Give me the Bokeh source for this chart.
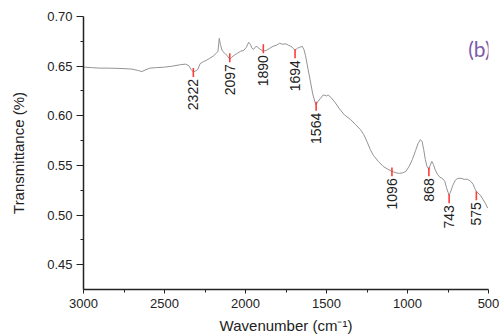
import math
from bokeh.plotting import figure
from bokeh.models import Range1d, FixedTicker, PrintfTickFormatter, Label
from bokeh.core.properties import value
from bokeh.embed import file_html
from bokeh.resources import INLINE

# ---- data ----
wavenumber = [3000, 2950, 2900, 2850, 2800, 2750, 2700, 2660, 2640, 2620, 2590, 2550,
              2500, 2450, 2400, 2370, 2350, 2335, 2322, 2310, 2295, 2280, 2260, 2240,
              2220, 2200, 2180, 2170, 2162, 2155, 2145, 2130, 2115, 2097, 2085, 2070,
              2050, 2030, 2010, 1995, 1980, 1970, 1960, 1950, 1935, 1925, 1910, 1890,
              1870, 1850, 1830, 1810, 1790, 1770, 1750, 1735, 1720, 1705, 1694, 1680,
              1665, 1650, 1640, 1630, 1615, 1600, 1585, 1570, 1564, 1555, 1540, 1520,
              1500, 1490, 1470, 1450, 1420, 1390, 1350, 1320, 1290, 1270, 1250, 1230,
              1210, 1180, 1150, 1120, 1096, 1070, 1050, 1030, 1010, 990, 970, 950,
              935, 920, 910, 900, 890, 880, 868, 860, 850, 840, 830, 815, 800, 785,
              770, 760, 750, 743, 735, 720, 705, 690, 670, 650, 630, 610, 595, 585,
              575, 565, 550, 535, 520, 505]
transmittance = [0.649, 0.6485, 0.648, 0.648, 0.6478, 0.6475, 0.647, 0.6455, 0.6445, 0.646, 0.648, 0.6485,
                 0.649, 0.650, 0.6515, 0.652, 0.6505, 0.6465, 0.644, 0.645, 0.6465, 0.6525, 0.6545, 0.656,
                 0.658, 0.660, 0.663, 0.665, 0.678, 0.672, 0.666, 0.663, 0.661, 0.657, 0.659, 0.661,
                 0.663, 0.665, 0.666, 0.669, 0.674, 0.672, 0.668, 0.667, 0.670, 0.669, 0.667, 0.665,
                 0.666, 0.668, 0.670, 0.671, 0.673, 0.672, 0.6725, 0.671, 0.670, 0.668, 0.666, 0.668,
                 0.669, 0.670, 0.667, 0.661, 0.648, 0.635, 0.622, 0.613, 0.611, 0.614, 0.617, 0.621,
                 0.620, 0.621, 0.618, 0.614, 0.607, 0.601, 0.596, 0.591, 0.586, 0.581, 0.574, 0.566,
                 0.560, 0.554, 0.549, 0.546, 0.544, 0.5425, 0.542, 0.5425, 0.544, 0.549, 0.556, 0.565,
                 0.572, 0.576, 0.574, 0.566, 0.556, 0.549, 0.546, 0.550, 0.554, 0.551, 0.546, 0.541, 0.538, 0.537,
                 0.534, 0.528, 0.523, 0.520, 0.523, 0.530, 0.535, 0.537, 0.537, 0.536, 0.536, 0.534, 0.531, 0.527,
                 0.524, 0.522, 0.520, 0.516, 0.512, 0.507]

peaks = [2322, 2097, 1890, 1694, 1564, 1096, 868, 743, 575]
peak_T = [0.648, 0.663, 0.672, 0.667, 0.614, 0.548, 0.548, 0.521, 0.524]
peak_labels = [str(v) for v in peaks]

x_ticks = [3000, 2500, 2000, 1500, 1000, 500]
x_minor = [2750, 2250, 1750, 1250, 750]
y_ticks = [0.45, 0.50, 0.55, 0.60, 0.65, 0.70]
y_minor = [0.475, 0.525, 0.575, 0.625, 0.675]

FONT = "Liberation Sans"
AX = "#222222"

p = figure(width=502, height=336, x_range=Range1d(3000, 500), y_range=Range1d(0.425, 0.70),
           output_backend="svg", toolbar_location=None,
           min_border_left=83, min_border_right=14, min_border_top=16, min_border_bottom=45)
p.xgrid.visible = False
p.ygrid.visible = False
p.outline_line_color = None
p.background_fill_color = "white"

for ax in (p.xaxis[0], p.yaxis[0]):
    ax.axis_line_color = AX
    ax.axis_line_width = 1.5
    ax.major_tick_line_color = AX
    ax.minor_tick_line_color = AX
    ax.major_label_text_font = FONT
    ax.major_label_text_font_size = "13px"
    ax.major_label_text_color = AX
    ax.axis_label_text_font = FONT
    ax.axis_label_text_font_style = "normal"
    ax.axis_label_text_color = AX
    ax.axis_label_text_font_size = "15px"

p.xaxis.ticker = FixedTicker(ticks=x_ticks, minor_ticks=x_minor)
p.yaxis.ticker = FixedTicker(ticks=y_ticks, minor_ticks=y_minor)
p.yaxis.formatter = PrintfTickFormatter(format="%.2f")
p.xaxis.major_tick_out = 4
p.xaxis.major_tick_in = 0
p.xaxis.minor_tick_out = 3
p.xaxis.minor_tick_in = 0
p.xaxis.major_label_standoff = 5
p.xaxis.axis_label = "Wavenumber (cm\u207b\u00b9)"
p.xaxis.axis_label_standoff = 6
p.yaxis.major_tick_out = 7
p.yaxis.major_tick_in = 0
p.yaxis.minor_tick_out = 3
p.yaxis.minor_tick_in = 0
p.yaxis.major_label_standoff = 4
p.yaxis.axis_label = "Transmittance (%)"
p.yaxis.axis_label_standoff = 17

# spectrum
p.line(wavenumber, transmittance, line_color="#939393", line_width=1)

# peak markers and labels
p.segment(x0=peaks, y0=peak_T, x1=peaks, y1=[t - 0.009 for t in peak_T],
          line_color="#ff3b3b", line_width=1.6)
p.text(x=peaks, y=[t - 0.011 for t in peak_T], text=peak_labels, angle=math.pi / 2,
       text_align="right", text_baseline="middle", text_font=value(FONT),
       text_font_size="14px", text_color=AX)

# panel letter
p.add_layout(Label(x=556, y=0.668, text="(b)", text_align="center", text_baseline="middle",
                   text_font="Lato", text_font_size="21px", text_color="#7e5ca8"))

open("out.html", "w").write(file_html(p, INLINE))
